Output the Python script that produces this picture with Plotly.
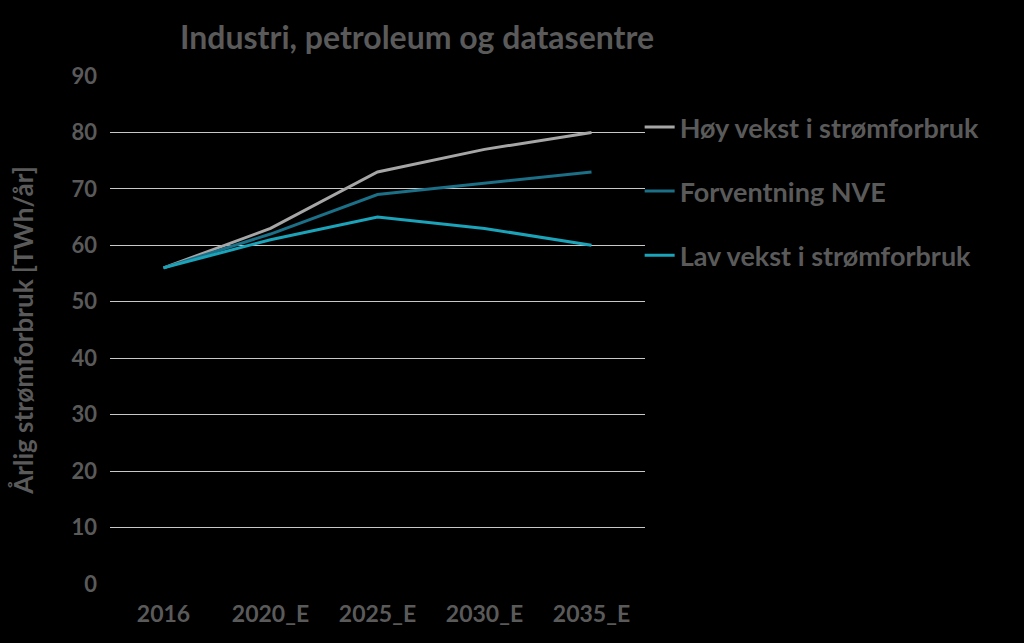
import plotly.graph_objects as go

categories = ["2016", "2020_E", "2025_E", "2030_E", "2035_E"]
hoy = [56, 63, 73, 77, 80]
forventning = [56, 62, 69, 71, 73]
lav = [56, 61, 65, 63, 60]

names = ["Høy vekst i strømforbruk", "Forventning NVE", "Lav vekst i strømforbruk"]
colors = ["#a6a6a6", "#1b6f86", "#1ba3b9"]
series = [hoy, forventning, lav]

text_color = "#5a5a5a"
font_family = "Lato, 'Open Sans', sans-serif"

fig = go.Figure()
for i, (nm, col, vals) in enumerate(zip(names, colors, series)):
    fig.add_trace(go.Scatter(
        x=categories, y=vals, mode="lines", name=f"<b>{nm}</b>",
        line=dict(color=col, width=3), legendgroup=f"g{i}",
    ))

fig.update_layout(
    width=1024, height=643,
    paper_bgcolor="#000000", plot_bgcolor="#000000",
    margin=dict(l=110, r=379, t=76, b=59),
    title=dict(text="<b>Industri, petroleum og datasentre</b>",
               x=417 / 1024, xanchor="center", y=1 - 38 / 643, yanchor="middle",
               font=dict(family=font_family, size=32, color=text_color)),
    font=dict(family=font_family, color=text_color),
    showlegend=True,
    legend=dict(x=0.99, xanchor="left", y=0.947, yanchor="top",
                bgcolor="rgba(0,0,0,0)", tracegroupgap=26,
                font=dict(family=font_family, size=27, color=text_color),
                itemwidth=30),
    xaxis=dict(type="category", range=[-0.5, 4.5], showgrid=False, showline=False,
               zeroline=False, ticks="",
               tickfont=dict(family=font_family, size=23, color=text_color),
               ticklabelstandoff=14),
    yaxis=dict(range=[0, 90], dtick=10, showgrid=True, gridcolor="#c8c8c8", gridwidth=1.2,
               zeroline=False, showline=False, ticks="",
               tickfont=dict(family=font_family, size=22, color=text_color),
               ticklabelstandoff=12,
               title=dict(text="<b>Årlig strømforbruk [TWh/år]</b>", standoff=30,
                          font=dict(family=font_family, size=26, color=text_color))),
)
fig.update_xaxes(tickprefix="<b>", ticksuffix="</b>")
fig.update_yaxes(tickprefix="<b>", ticksuffix="</b>")

fig.write_html("out.html")
